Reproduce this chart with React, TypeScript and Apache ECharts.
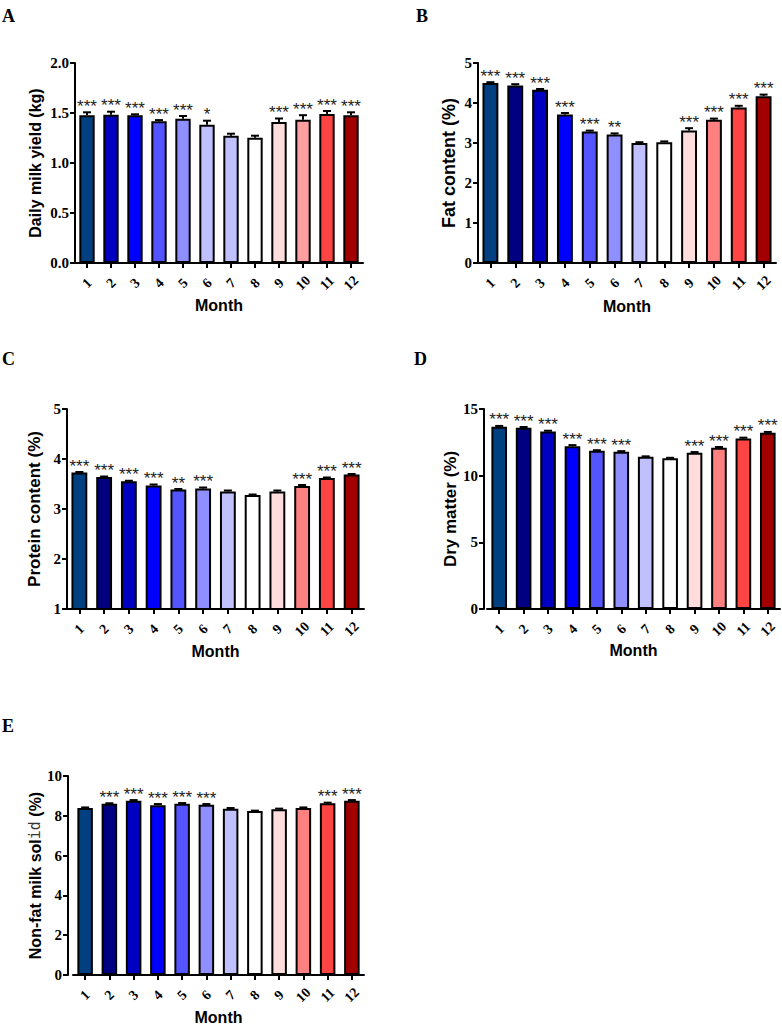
import React, { useEffect, useRef } from "react";
import * as echarts from "echarts";

const months = ["1", "2", "3", "4", "5", "6", "7", "8", "9", "10", "11", "12"];

const colorsA = ["#004080", "#0000c0", "#0000ff", "#5555ff", "#8f8fff", "#c0c0ff", "#c0c0ff", "#ffffff", "#ffdddd", "#ff9f9f", "#ff4444", "#a00000"];
const colorsMain = ["#004080", "#000080", "#0000c0", "#0000ff", "#5555ff", "#8f8fff", "#c0c0ff", "#ffffff", "#ffdddd", "#ff8080", "#ff4444", "#a00000"];

const milkYield = [1.477, 1.483, 1.477, 1.417, 1.443, 1.383, 1.273, 1.253, 1.41, 1.433, 1.49, 1.477];
const milkYieldErr = [0.03, 0.03, 0.01, 0.012, 0.027, 0.04, 0.02, 0.02, 0.035, 0.045, 0.03, 0.03];
const milkYieldStars = ["***", "***", "***", "***", "***", "*", "", "", "***", "***", "***", "***"];

const fat = [4.5, 4.44, 4.33, 3.71, 3.29, 3.21, 3.0, 3.02, 3.31, 3.58, 3.89, 4.17];
const fatErr = [0.02, 0.03, 0.02, 0.04, 0.02, 0.03, 0.02, 0.02, 0.06, 0.03, 0.04, 0.04];
const fatStars = ["***", "***", "***", "***", "***", "**", "", "", "***", "***", "***", "***"];

const protein = [3.73, 3.64, 3.555, 3.47, 3.39, 3.41, 3.35, 3.28, 3.35, 3.46, 3.62, 3.69];
const proteinErr = [0.01, 0.01, 0.01, 0.02, 0.01, 0.02, 0.02, 0.01, 0.02, 0.02, 0.01, 0.01];
const proteinStars = ["***", "***", "***", "***", "**", "***", "", "", "", "***", "***", "***"];

const dryMatter = [13.67, 13.6, 13.32, 12.21, 11.86, 11.79, 11.41, 11.31, 11.71, 12.09, 12.79, 13.22];
const dryMatterErr = [0.06, 0.05, 0.05, 0.08, 0.05, 0.05, 0.04, 0.03, 0.06, 0.06, 0.06, 0.06];
const dryMatterStars = ["***", "***", "***", "***", "***", "***", "", "", "***", "***", "***", "***"];

const snf = [8.39, 8.6, 8.76, 8.53, 8.6, 8.55, 8.36, 8.24, 8.33, 8.39, 8.63, 8.76];
const snfErr = [0.03, 0.03, 0.03, 0.06, 0.04, 0.04, 0.03, 0.02, 0.03, 0.03, 0.03, 0.03];
const snfStars = ["", "***", "***", "***", "***", "***", "", "", "", "", "***", "***"];

const SERIF = '"Liberation Serif", "Times New Roman", serif';
const SANS = '"Liberation Sans", Arial, sans-serif';

type Panel = {
  letter: string;
  lx: number;
  ly: number;
  grid: { left: number; top: number; width: number; height: number };
  yOffset: number;
  min: number;
  max: number;
  interval: number;
  name: string;
  nameSize: number;
  nameGap: number;
  monthGap: number;
  values: number[];
  errs: number[];
  stars: string[];
  colors: string[];
  decimals: number;
};

const panels: Panel[] = [
  { letter: "A", lx: 2, ly: 7, grid: { left: 75, top: 63, width: 288, height: 200 }, yOffset: 0, min: 0, max: 2, interval: 0.5, name: "Daily milk yield (kg)", nameSize: 16, nameGap: 32, monthGap: 34, values: milkYield, errs: milkYieldErr, stars: milkYieldStars, colors: colorsA, decimals: 1 },
  { letter: "B", lx: 416, ly: 7, grid: { left: 478, top: 63, width: 298, height: 200 }, yOffset: 0, min: 0, max: 5, interval: 1, name: "Fat content (%)", nameSize: 18, nameGap: 20, monthGap: 35, values: fat, errs: fatErr, stars: fatStars, colors: colorsMain, decimals: 0 },
  { letter: "C", lx: 2, ly: 350, grid: { left: 67, top: 409, width: 297, height: 200 }, yOffset: 0, min: 1, max: 5, interval: 1, name: "Protein content (%)", nameSize: 17, nameGap: 24, monthGap: 34, values: protein, errs: proteinErr, stars: proteinStars, colors: colorsMain, decimals: 0 },
  { letter: "D", lx: 414, ly: 350, grid: { left: 487, top: 409, width: 293, height: 200 }, yOffset: 3, min: 0, max: 15, interval: 5, name: "Dry matter (%)", nameSize: 17, nameGap: 23, monthGap: 33, values: dryMatter, errs: dryMatterErr, stars: dryMatterStars, colors: colorsMain, decimals: 0 },
  { letter: "E", lx: 2, ly: 717, grid: { left: 73, top: 776, width: 291, height: 199 }, yOffset: 5, min: 0, max: 10, interval: 2, name: "Non-fat milk sol{m|id} (%)", nameSize: 16, nameGap: 21, monthGap: 34, values: snf, errs: snfErr, stars: snfStars, colors: colorsMain, decimals: 0 },
];

function buildOption() {
  const grid: any[] = [];
  const xAxis: any[] = [];
  const yAxis: any[] = [];
  const series: any[] = [];
  const graphic: any[] = [];

  panels.forEach((p, i) => {
    grid.push({ ...p.grid, containLabel: false });
    xAxis.push({
      type: "category",
      gridIndex: i,
      data: months,
      name: "Month",
      nameLocation: "middle",
      nameGap: p.monthGap,
      nameTextStyle: { fontFamily: SANS, fontWeight: "bold", fontSize: 16, color: "#000" },
      axisLine: { show: true, onZero: false, lineStyle: { color: "#000", width: 2 } },
      axisTick: { show: true, alignWithLabel: true, interval: 0, length: 5, lineStyle: { color: "#000", width: 2 } },
      axisLabel: {
        interval: 0,
        rotate: 45,
        align: "center",
        verticalAlign: "middle",
        margin: 20,
        fontFamily: SERIF,
        fontWeight: "bold",
        fontSize: 14,
        color: "#000",
      },
      splitLine: { show: false },
    });
    yAxis.push({
      type: "value",
      gridIndex: i,
      min: p.min,
      max: p.max,
      interval: p.interval,
      offset: p.yOffset,
      name: p.name,
      nameLocation: "middle",
      nameGap: p.nameGap,
      nameRotate: 90,
      nameTextStyle: {
        fontFamily: SANS,
        fontWeight: "bold",
        fontSize: p.nameSize,
        color: "#000",
        rich: {
          m: { fontFamily: '"DejaVu Sans Mono", monospace', fontWeight: "normal", fontSize: 15, color: "#333" },
        },
      },
      axisLine: { show: true, lineStyle: { color: "#000", width: 2 } },
      axisTick: { show: true, length: 5, lineStyle: { color: "#000", width: 2 } },
      axisLabel: {
        margin: 6,
        fontFamily: SERIF,
        fontWeight: "bold",
        fontSize: 15,
        color: "#000",
        formatter: (v: number) => v.toFixed(p.decimals),
      },
      splitLine: { show: false },
    });
    series.push({
      type: "bar",
      xAxisIndex: i,
      yAxisIndex: i,
      barCategoryGap: "36%",
      data: p.values.map((v, j) => ({ value: v, itemStyle: { color: p.colors[j] } })),
      itemStyle: { borderColor: "#000", borderWidth: 2 },
      clip: true,
    });
    const stars = p.stars;
    series.push({
      type: "custom",
      xAxisIndex: i,
      yAxisIndex: i,
      data: p.values.map((v, j) => [j, v, p.errs[j]]),
      encode: { x: 0, y: 1 },
      z: 5,
      renderItem: (params: any, api: any) => {
        const idx = api.value(0);
        const v = api.value(1);
        const e = api.value(2);
        const base = api.coord([idx, v]);
        const top = api.coord([idx, v + e]);
        const star = stars[params.dataIndex];
        return {
          type: "group",
          children: [
            { type: "line", shape: { x1: top[0], y1: base[1], x2: top[0], y2: top[1] }, style: { stroke: "#000", lineWidth: 2 } },
            { type: "line", shape: { x1: top[0] - 4, y1: top[1], x2: top[0] + 4, y2: top[1] }, style: { stroke: "#000", lineWidth: 2 } },
            {
              type: "text",
              x: top[0],
              y: top[1] - 6,
              style: { text: star, align: "center", verticalAlign: "middle", fontFamily: SANS, fontSize: 17, fill: "#222" },
            },
          ],
        };
      },
    });
    graphic.push({
      type: "text",
      x: p.lx,
      y: p.ly,
      style: { text: p.letter, fontFamily: SERIF, fontWeight: "bold", fontSize: 18, fill: "#000", align: "left", verticalAlign: "top" },
    });
  });

  return { animation: false, backgroundColor: "#fff", grid, xAxis, yAxis, series, graphic };
}

export default function App() {
  const ref = useRef<HTMLDivElement>(null);
  useEffect(() => {
    document.body.style.margin = "0";
    if (!ref.current) return;
    const chart = echarts.init(ref.current, undefined, { renderer: "svg" });
    chart.setOption(buildOption() as any);
    return () => chart.dispose();
  }, []);
  return <div ref={ref} style={{ width: 782, height: 1030 }} />;
}
